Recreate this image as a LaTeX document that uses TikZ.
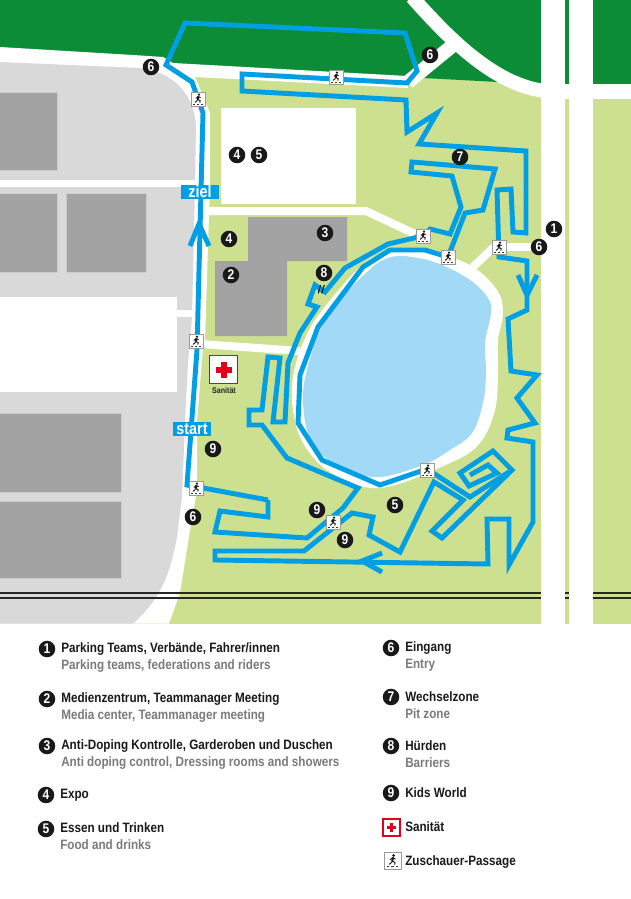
\documentclass[tikz,border=0pt]{standalone}
\usepackage{fontspec}
\setmainfont[FakeStretch=0.86]{Liberation Sans}
\definecolor{meadow}{RGB}{205,224,144}
\definecolor{forest}{RGB}{12,140,55}
\definecolor{lot}{RGB}{217,217,217}
\definecolor{hall}{RGB}{163,163,163}
\definecolor{water}{RGB}{162,217,247}
\definecolor{routeblue}{RGB}{0,159,227}
\definecolor{crossred}{RGB}{226,0,26}
\tikzset{
  road/.style={draw=white,line width=6pt},
  routeline/.style={draw=routeblue,line width=3.7pt,miter limit=20},
  hallbox/.style={fill=hall,draw=black!20,line width=0.4pt},
  num/.style={circle,fill=black!90,text=white,inner sep=0pt,minimum size=12.4pt,font=\bfseries\fontsize{10.5}{10.5}\selectfont},
  routetag/.style={fill=routeblue,text=white,inner sep=0pt,minimum height=10.5pt,font=\bfseries\fontsize{12.5}{12.5}\selectfont},
  legendtitle/.style={anchor=west,inner sep=0pt,text=black!90,font=\bfseries\fontsize{10.2}{10.2}\selectfont},
  legendsub/.style={anchor=west,inner sep=0pt,text=black!52,font=\bfseries\fontsize{10.2}{10.2}\selectfont},
  redbox/.style={draw=crossred,line width=1.4pt,fill=white,inner sep=0pt},
  passage/.style={draw=black!40,line width=0.5pt,fill=white,inner sep=0pt,minimum size=10.5pt},
  runner/.pic={
    \begin{scope}[yscale=-1]
    \fill [black!90] (1,-4.4) circle (1.3);
    \draw [black!90,line width=1.5pt] (0.4,-2.8) -- (-0.2,0.6);
    \draw [black!90,line width=0.7pt] (-0.2,0.6) -- (2.2,1.6) -- (1.8,3.6) (-0.2,0.6) -- (-1.2,2) -- (-3,3.4) (0.4,-2.4) -- (2.6,-1.2) (0.4,-2.4) -- (-2.2,-0.6);
    \foreach \dotx in {-4,0,4} \fill [black!80] (\dotx-0.9,4.8) rectangle (\dotx+0.9,5.8);
    \end{scope}
  },
  redcross/.pic={
    \fill [crossred] (-8,-3) rectangle (8,3);
    \fill [crossred] (-3,-8) rectangle (3,8);
  },
}
\begin{document}
\begin{tikzpicture}[x=0.75pt,y=0.75pt,yscale=-1,xscale=1]
\useasboundingbox (0,0) rectangle (631,899);
\fill [meadow] (0,0) rectangle (631,624);
\fill [forest] (0,0) -- (631,0) -- (631,90) -- (541,90) -- (498,82) -- (423,78) -- (408,82) -- (173,70) -- (0,52) -- cycle;
\fill [white] (0,47) -- (133,55) -- (163,57) -- (173,63) -- (407,76) -- (408,88) -- (195,77) -- (210,113) -- (210,187) -- (209,215) -- (205,340) -- (203,347) -- (197,422) -- (197,490) -- (190,530) -- (180,593) -- (169,623.5) -- (0,623.5) -- cycle;
\fill [lot] (0,62) -- (140,68) .. controls (170,72) and (193,90) .. (196,125) -- (195,187) -- (192,317) -- (188,363) -- (185,422) -- (182,497) -- (177,537) .. controls (170,575) and (160,600) .. (133,623.5) -- (0,623.5) -- cycle;
\fill [white] (0,180) rectangle (200,187);
\fill [white] (0,297) rectangle (177,392);
\fill [white] (177,310) rectangle (196,317);
\draw [hallbox] (-1,92) rectangle (57,170);
\draw [hallbox] (-1,193) rectangle (57,272);
\draw [hallbox] (66,193) rectangle (146,272);
\draw [hallbox] (-1,413) rectangle (121,492);
\draw [hallbox] (-1,501) rectangle (121,578);
\draw [line width=10.5pt,white] (412,-3) .. controls (450,40) and (495,85) .. (545,91);
\draw [line width=10.5pt,white] (408,82) -- (452,46);
\fill [white] (221,108) rectangle (356,204);
\draw [road] (205,211) -- (366,211) -- (415,234);
\draw [road] (200,344) -- (300,351);
\draw [road] (497,247) -- (539,247);
\draw [road] (495,246) -- (473,267);
\fill [white] (541,0) rectangle (565,624);
\fill [white] (569,0) rectangle (593,624);
\fill [white] (541,84) rectangle (631,99);
\fill [hall] (248,217) -- (347,217) -- (347,261) -- (287,261) -- (287,336) -- (215,336) -- (215,261) -- (248,261) -- cycle;
\fill [white] plot [smooth cycle,tension=0.6] coordinates {(387,253) (430,253) (470,265) (497,290) (503,313) (498,340) (498,373) (495,410) (480,443) (450,463) (380,488) (330,472) (303,443) (293,410) (293,377) (303,343) (320,313) (360,267)};
\fill [water] plot [smooth cycle,tension=0.6] coordinates {(403,256) (437,263) (470,280) (488,298) (491,313) (485,343) (486,373) (483,403) (472,433) (450,450) (423,465) (380,477) (347,470) (320,453) (307,430) (303,397) (307,370) (320,330) (343,297) (367,272) (383,260)};
\draw [black!85,line width=0.9pt] (0,593) -- (541,593) (565,593) -- (569,593) (593,593) -- (631,593);
\draw [black!85,line width=0.9pt] (0,598) -- (541,598) (565,598) -- (569,598) (593,598) -- (631,598);
\draw [routeline] (268,500) -- (187,485) -- (197,350) -- (200,230) -- (203,113) -- (192,82) -- (166,65) -- (185,23) -- (405,33) -- (417,71) -- (407,83) -- (242,74) -- (242,91) -- (406,100) -- (407,132) -- (437,113) -- (419,144) -- (526,151) -- (526,233) -- (513,232) -- (511,189) -- (497,190) -- (499,257) -- (527,261) -- (527,310) -- (508,319) -- (511,371) -- (537,375) -- (517,398) -- (535,423) -- (508,430) -- (507,438) -- (533,442) -- (533,522) -- (509,565) -- (509,519) -- (487,519) -- (488,564) -- (215,560) -- (215,551) -- (304,551) -- (352,513) -- (373,517) -- (369,535) -- (400,552) -- (434,482) -- (463,500) -- (432,531) -- (442,538) -- (512,470) -- (493,451) -- (460,473) -- (469,486) -- (497,473) -- (488,465) -- (470,475);
\draw [routeline] (512,470) -- (470,497) -- (427,469) -- (380,485) -- (322,460) -- (298,423) -- (300,375) -- (318,327) -- (363,267) -- (390,250) -- (425,250) -- (448,257) -- (465,213) -- (483,210) -- (495,169) -- (412,162) -- (411,172) -- (452,176) -- (461,207) -- (450,234) -- (430,229) -- (423,236) -- (388,244) -- (345,268) -- (325,292) -- (315,285) -- (308,304) -- (317,307) -- (300,333) -- (288,363) -- (285,422) -- (273,422) -- (280,358) -- (268,357) -- (262,410) -- (249,410) -- (249,425) -- (262,425) -- (287,458) -- (320,472) -- (358,488) -- (343,508) -- (307,538) -- (215,532) -- (220,511) -- (268,517) -- (268,500);
\draw [routeline] (190,246) -- (199,224) -- (209,246);
\draw [routeline] (518,275) -- (527,295) -- (537,275);
\draw [routeline] (382,553) -- (362,561) -- (382,572);
\draw [black,line width=0.8pt] (320.5,285) -- (318.3,293.3) (324.3,285) -- (321.7,293.3);
\node (tagziel) [routetag,minimum width=28.5pt] at (200,192) {ziel};
\node (tagstart) [routetag,minimum width=28.5pt] at (192,429) {start};
\foreach \pname/\px/\py in {pass1/198/99,pass2/336/77,pass3/423/236,pass4/448/257,pass5/499/247,pass6/196/341,pass7/196/488,pass8/333/522,pass9/427/470} {
  \node (\pname) [passage] at (\px,\py) {};
  \pic at (\pname) {runner};
}
\node (mapa) [num] at (554,229) {1};
\node (mapb) [num] at (231,275) {2};
\node (mapc) [num] at (325,233) {3};
\node (mapd) [num] at (237,155) {4};
\node (mape) [num] at (229,239) {4};
\node (mapf) [num] at (259,155) {5};
\node (mapg) [num] at (395,505) {5};
\node (maph) [num] at (151,67) {6};
\node (mapi) [num] at (430,55) {6};
\node (mapj) [num] at (539,247) {6};
\node (mapk) [num] at (193,517) {6};
\node (mapl) [num] at (460,157) {7};
\node (mapm) [num] at (324,273) {8};
\node (mapn) [num] at (213,449) {9};
\node (mapo) [num] at (317,510) {9};
\node (mapp) [num] at (345,540) {9};
\node (sanbox) [redbox,minimum width=21pt,minimum height=21pt] at (223.5,369.5) {};
\pic at (sanbox) {redcross};
\node (sanlabel) [inner sep=0pt,text=black!85,font=\bfseries\fontsize{6.2}{6.2}\selectfont] at (224,391) {Sanität};
\node (keya) [num] at (47,649) {1};
\node (keyatitle) [legendtitle] at (61,649) {Parking Teams, Verbände, Fahrer/innen};
\node (keyasub) [legendsub] at (61,666) {Parking teams, federations and riders};
\node (keyb) [num] at (47,699) {2};
\node (keybtitle) [legendtitle] at (61,699) {Medienzentrum, Teammanager Meeting};
\node (keybsub) [legendsub] at (61,716) {Media center, Teammanager meeting};
\node (keyc) [num] at (47,746) {3};
\node (keyctitle) [legendtitle] at (61,746) {Anti-Doping Kontrolle, Garderoben und Duschen};
\node (keycsub) [legendsub] at (61,763) {Anti doping control, Dressing rooms and showers};
\node (keyd) [num] at (46,795) {4};
\node (keydtitle) [legendtitle] at (60,795) {Expo};
\node (keye) [num] at (46,829) {5};
\node (keyetitle) [legendtitle] at (60,828) {Essen und Trinken};
\node (keyesub) [legendsub] at (60,845) {Food and drinks};
\node (keyf) [num] at (391,648) {6};
\node (keyftitle) [legendtitle] at (405,648) {Eingang};
\node (keyfsub) [legendsub] at (405,665) {Entry};
\node (keyg) [num] at (391,697) {7};
\node (keygtitle) [legendtitle] at (405,697) {Wechselzone};
\node (keygsub) [legendsub] at (405,714) {Pit zone};
\node (keyh) [num] at (391,746) {8};
\node (keyhtitle) [legendtitle] at (405,746) {Hürden};
\node (keyhsub) [legendsub] at (405,763) {Barriers};
\node (keyi) [num] at (391,793) {9};
\node (keyititle) [legendtitle] at (405,793) {Kids World};
\node (keyj) [redbox,minimum width=12.5pt,minimum height=12.5pt] at (391.5,827.5) {};
\pic [scale=0.6] at (keyj) {redcross};
\node (keyjtitle) [legendtitle] at (405,827) {Sanität};
\node (keyk) [passage,minimum size=12.5pt] at (392.5,860.5) {};
\pic [scale=1.15] at (keyk) {runner};
\node (keyktitle) [legendtitle] at (405,862) {Zuschauer-Passage};
\end{tikzpicture}
\end{document}
